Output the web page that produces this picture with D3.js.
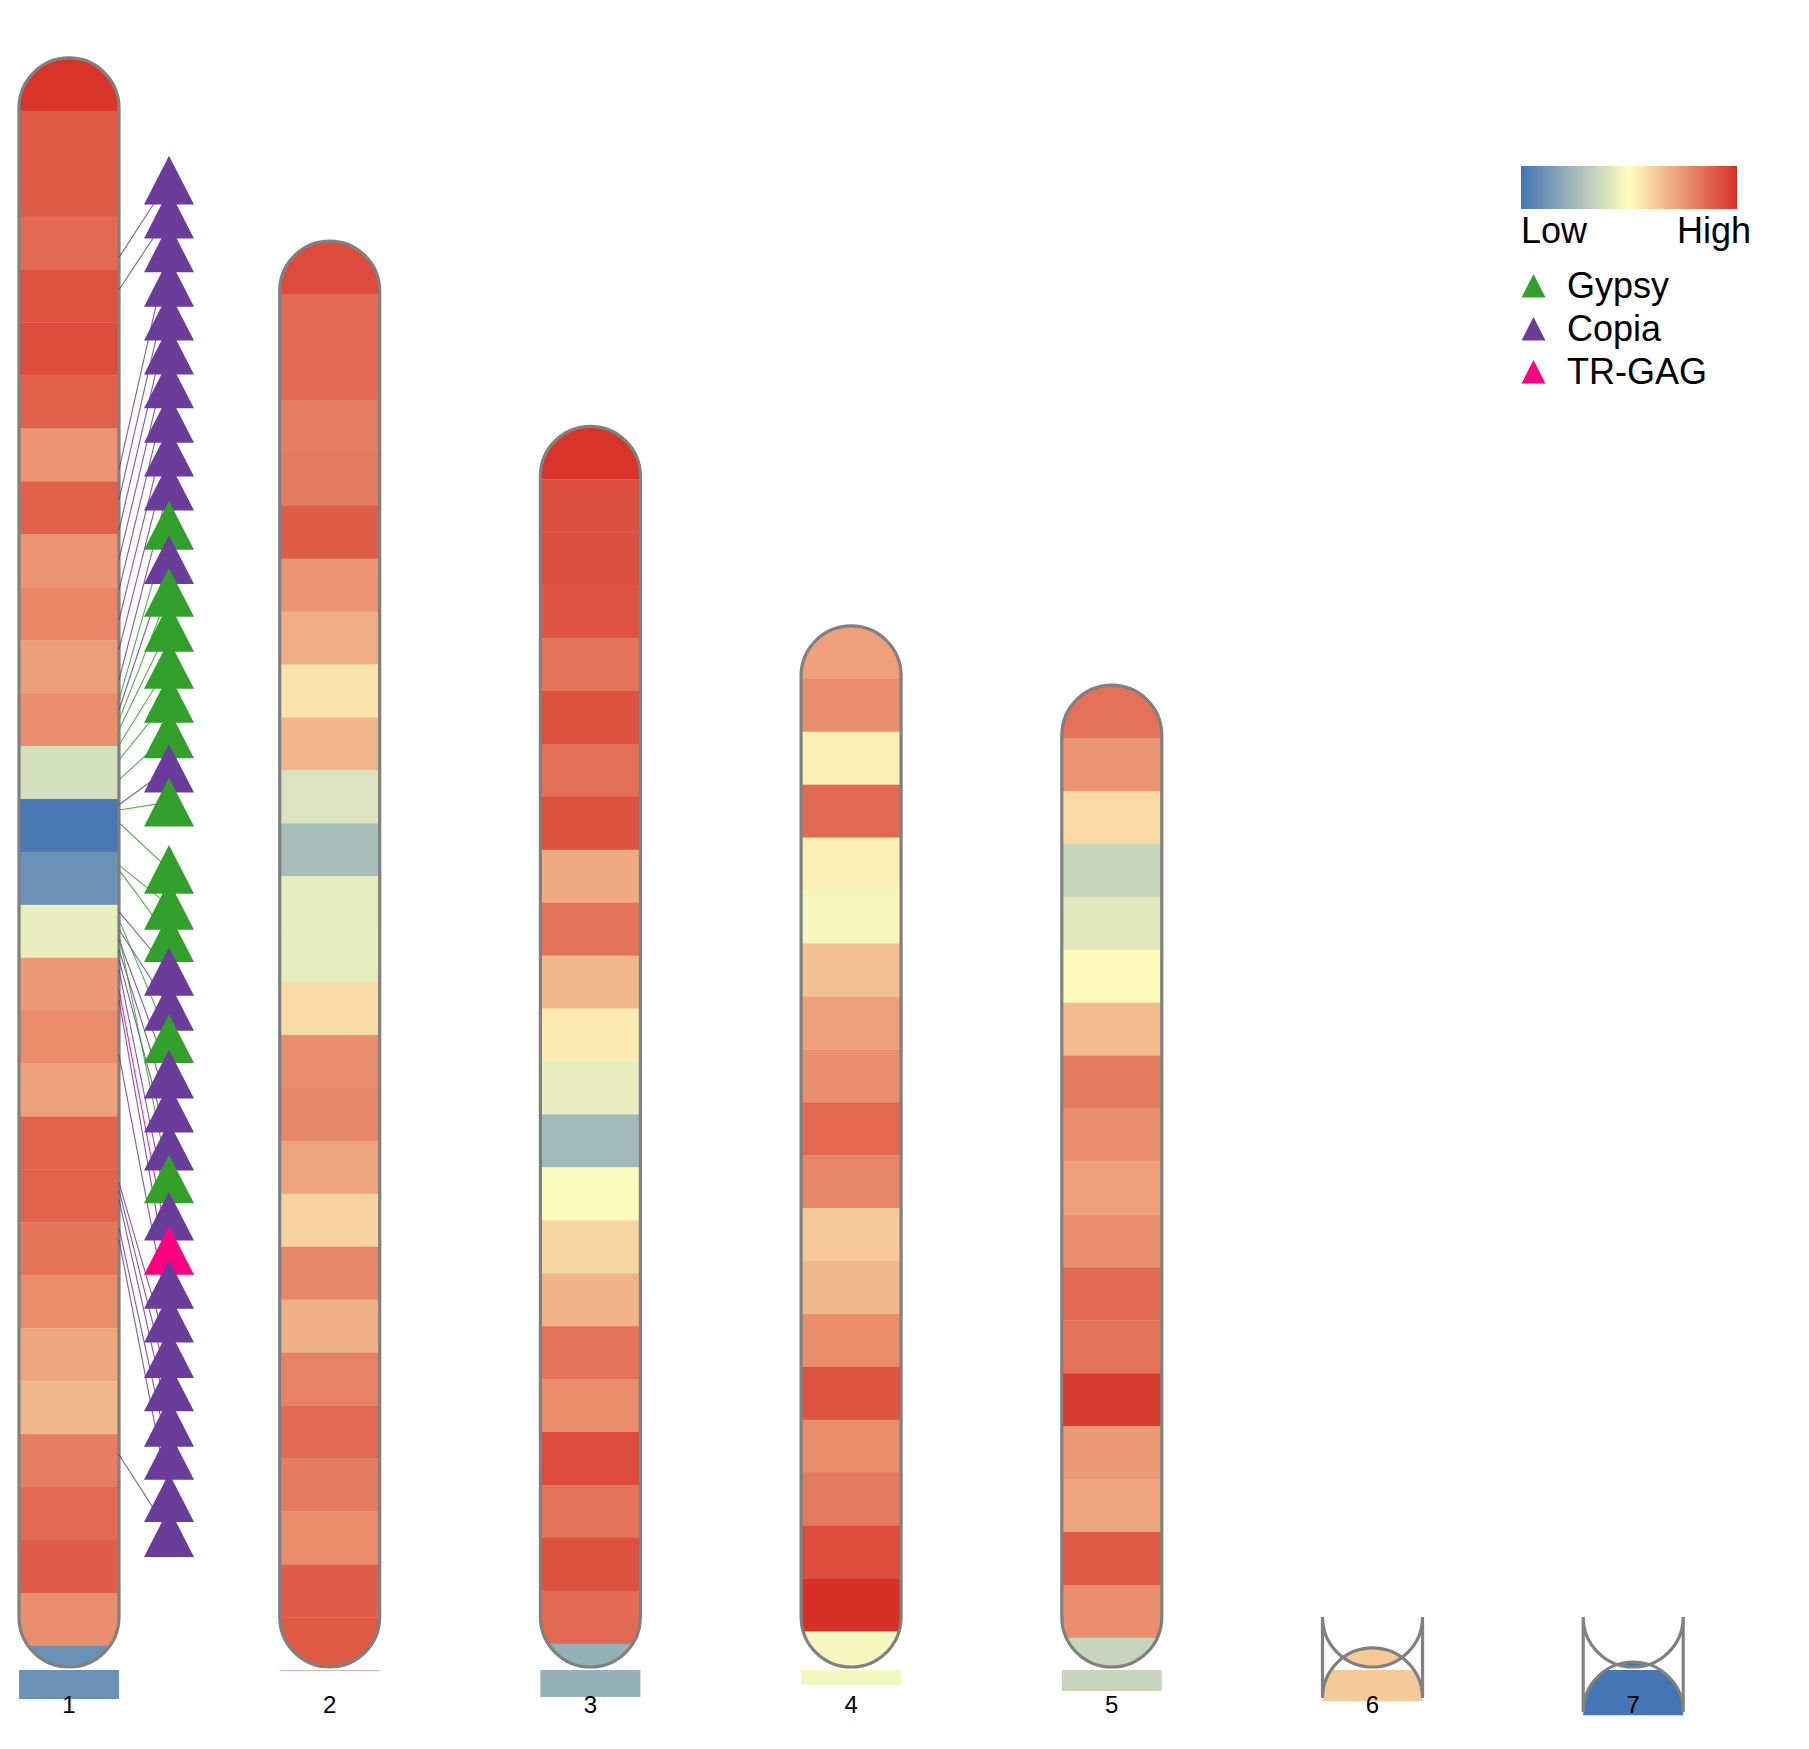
<!DOCTYPE html>
<html><head><meta charset="utf-8">
<script src="https://cdn.jsdelivr.net/npm/d3@7"></script>
<style>html,body{margin:0;padding:0;background:#fff}svg{display:block}</style>
</head><body>
<svg id="chart" width="1809" height="1749"></svg>
<script>
// ---------------- DATA ----------------
const chromosomes = ["1","2","3","4","5","6","7"];
const chrLengths  = [30.40, 26.94, 23.44, 19.67, 18.55, 0.36, 0.094]; // Mb
const binSize = 1; // Mb per density window

const density1 = [0.99,0.90,0.894,0.86,0.918,0.93,0.884,0.758,0.884,0.758,0.792,0.734,0.771,0.384,0.013,0.102,0.438,0.744,0.778,0.729,0.877,0.877,0.831,0.778,0.715,0.671,0.809,0.86,0.889,0.771,0.10];
const density2 = [0.935,0.86,0.86,0.81,0.82,0.89,0.758,0.703,0.565,0.676,0.40,0.263,0.433,0.43,0.587,0.771,0.79,0.722,0.606,0.79,0.69,0.80,0.86,0.82,0.778,0.889,0.90];
const density3 = [0.99,0.925,0.925,0.915,0.836,0.92,0.845,0.92,0.705,0.836,0.671,0.548,0.438,0.245,0.507,0.594,0.68,0.836,0.778,0.935,0.836,0.92,0.86,0.212];
const density4 = [0.729,0.774,0.536,0.86,0.536,0.47,0.652,0.729,0.771,0.865,0.79,0.63,0.671,0.778,0.918,0.778,0.82,0.93,1.0,0.47];
const density5 = [0.84,0.758,0.592,0.352,0.414,0.51,0.662,0.82,0.771,0.729,0.771,0.86,0.84,0.97,0.745,0.72,0.90,0.771,0.347];
const density6 = [0.627];
const density7 = [0.0];
const densities = [density1,density2,density3,density4,density5,density6,density7];

// TE markers on chromosome 1: type, feature position (Mb), label position (Mb)
const markerTypes = ["Copia","Copia","Copia","Copia","Copia","Copia","Copia","Copia","Copia","Copia",
  "Gypsy","Copia","Gypsy","Gypsy","Gypsy","Gypsy","Gypsy","Copia","Gypsy",
  "Gypsy","Gypsy","Gypsy","Copia","Copia","Gypsy","Copia","Copia","Copia","Gypsy","Copia","TR-GAG",
  "Copia","Copia","Copia","Copia","Copia","Copia","Copia","Copia"];
const markerFeaturePos = [3.77,4.38,7.78,8.35,8.92,9.48,10.05,10.62,11.18,11.75,
  12.13,12.32,12.51,12.69,12.98,13.26,13.64,14.11,14.21,
  14.45,15.25,15.34,16.13,16.47,16.28,16.66,16.85,17.04,16.57,17.23,17.61,
  17.80,18.83,21.25,21.39,21.57,22.10,22.33,26.39];
const markerLabelPos = [2.31,2.95,3.59,4.24,4.88,5.52,6.16,6.81,7.45,8.09,
  8.83,9.48,10.10,10.76,11.46,12.10,12.77,13.42,14.06,
  15.33,16.01,16.62,17.26,17.92,18.53,19.20,19.84,20.56,21.18,21.88,22.53,
  23.17,23.81,24.48,25.11,25.78,26.40,27.20,27.86];

const legendTypes  = ["Gypsy","Copia","TR-GAG"];
const legendColors = ["#33a02c","#6a3d9a","#ff0080"];
const gradientColors = ["#4575b4","#ffffbf","#d73027"];
const gradientLabels = ["Low","High"];

// ---------------- LAYOUT ----------------
const svg = d3.select("#chart");
const font = "'Liberation Sans', Arial, sans-serif";
const chrW = 100, r = chrW/2;
const bottomY = 1667;
const maxLen = d3.max(chrLengths);
const len = d3.scaleLinear().domain([0, maxLen]).range([0, maxLen*52.93]);
const x = d3.scalePoint().domain(chromosomes).range([19, 19 + 6*260.7]);
const color = d3.scaleLinear().domain([0, 0.5, 1]).range(gradientColors).interpolate(d3.interpolateRgb);
const typeColor = d3.scaleOrdinal().domain(legendTypes).range(legendColors);

const chrData = chromosomes.map((c,i)=>{
  const L = chrLengths[i];
  const top = bottomY - len(L);
  return {name:c, L, top, bot:bottomY, x:x(c), dens:densities[i]};
});

const gChr = svg.append("g");
chrData.forEach(d=>{
  const g = gChr.append("g");
  g.selectAll("rect").data(d.dens).join("rect")
    .attr("x", d.x).attr("width", chrW)
    .attr("y", (v,i)=> d.top + len(i*binSize))
    .attr("height", len(binSize) + 0.3)
    .attr("fill", v=>color(v));
  const x0 = d.x, x1 = d.x + chrW, yt = d.top, yb = d.bot;
  // white masks outside the rounded caps
  g.append("path")
    .attr("d", `M${x0-2},${yt+r} L${x0},${yt+r} A${r},${r} 0 0 1 ${x1},${yt+r} L${x1+2},${yt+r} L${x1+2},${yt-2} L${x0-2},${yt-2} Z`)
    .attr("fill","#fff").attr("stroke","#fff").attr("stroke-width",1);
  g.append("path")
    .attr("d", `M${x0-2},${yb-r} L${x0},${yb-r} A${r},${r} 0 0 0 ${x1},${yb-r} L${x1+2},${yb-r} L${x1+2},${yb+2.5} L${x0-2},${yb+2.5} Z`)
    .attr("fill","#fff").attr("stroke","#fff").attr("stroke-width",1);
  // outline
  g.append("path")
    .attr("d", `M${x0},${yt+r} L${x0},${yb-r} A${r},${r} 0 0 0 ${x1},${yb-r} L${x1},${yt+r} A${r},${r} 0 0 0 ${x0},${yt+r} Z`)
    .attr("fill","none").attr("stroke","#808080").attr("stroke-width",3.2);
  g.append("text").attr("x", d.x + chrW/2).attr("y", 1713)
    .attr("text-anchor","middle").attr("font-family",font).attr("font-size",24)
    .attr("fill","#000").text(d.name);
});

// ---------------- MARKERS (chromosome 1) ----------------
const c1 = chrData[0];
const markers = markerTypes.map((t,i)=>({type:t, feat:markerFeaturePos[i], lab:markerLabelPos[i]}));
const mx = c1.x + 150, triW = 50, triH = 48.7;
const gLines = svg.append("g");
gLines.selectAll("line").data(markers).join("line")
  .attr("x1", c1.x + chrW).attr("y1", d=> c1.top + len(d.feat))
  .attr("x2", mx).attr("y2", d=> c1.top + len(d.lab))
  .attr("stroke", d=>typeColor(d.type)).attr("stroke-width",1.1).attr("stroke-opacity",0.85);
const gTri = svg.append("g");
gTri.selectAll("path").data(markers).join("path")
  .attr("d", d=>{ const cy = c1.top + len(d.lab);
    return `M${mx},${cy-triH/2} L${mx+triW/2},${cy+triH/2} L${mx-triW/2},${cy+triH/2} Z`; })
  .attr("fill", d=>typeColor(d.type));

// ---------------- LEGEND ----------------
const defs = svg.append("defs");
const grad = defs.append("linearGradient").attr("id","lg").attr("x1","0%").attr("x2","100%");
gradientColors.forEach((c,i)=> grad.append("stop").attr("offset", (i/(gradientColors.length-1)*100)+"%").attr("stop-color",c));
svg.append("rect").attr("x",1521).attr("y",166).attr("width",216).attr("height",43).attr("fill","url(#lg)");
svg.append("text").attr("x",1521).attr("y",243).attr("font-family",font).attr("font-size",36).text(gradientLabels[0]);
svg.append("text").attr("x",1751).attr("y",243).attr("text-anchor","end").attr("font-family",font).attr("font-size",36).text(gradientLabels[1]);
const lg = svg.append("g");
legendTypes.forEach((t,i)=>{
  const ay = 274 + i*43;
  lg.append("path").attr("d", `M1533.5,${ay} L1545.5,${ay+23.5} L1521.5,${ay+23.5} Z`).attr("fill", typeColor(t));
  lg.append("text").attr("x",1567).attr("y", ay+24).attr("font-family",font).attr("font-size",36).text(t);
});
</script>
</body></html>
